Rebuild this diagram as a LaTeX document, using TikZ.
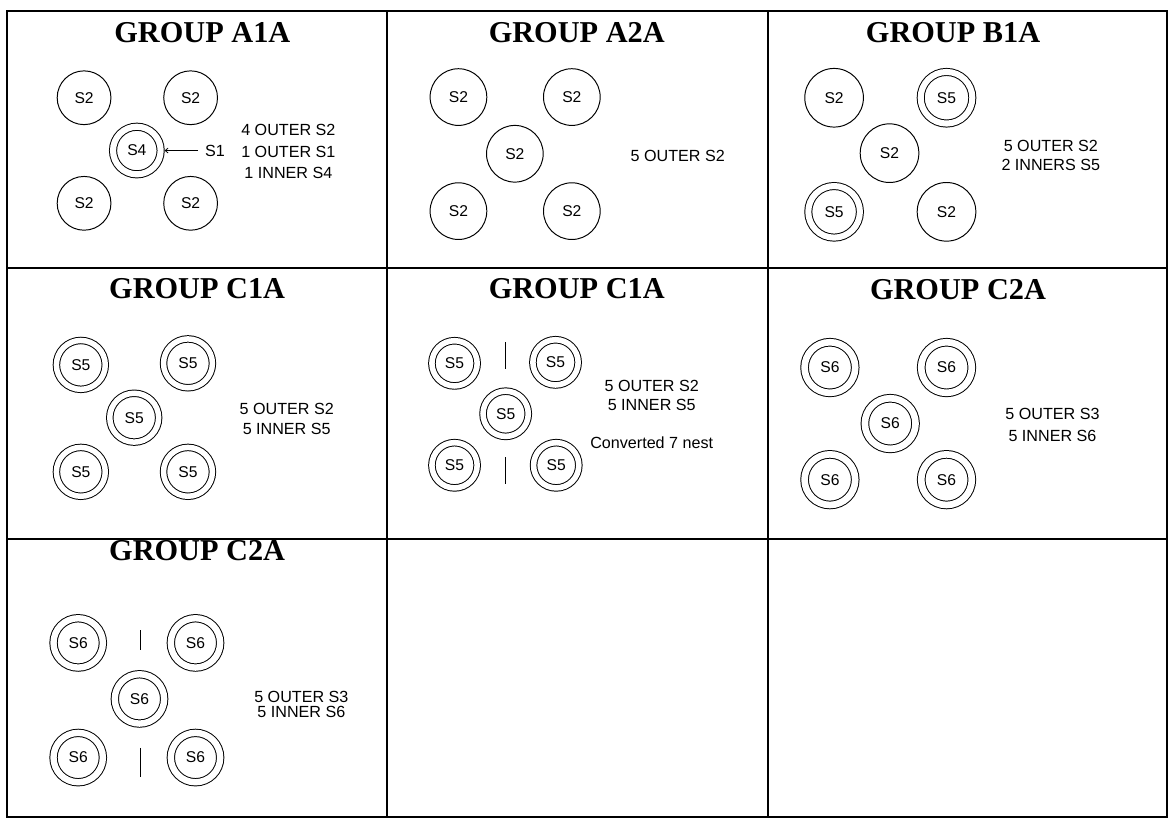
\documentclass[tikz,border=0pt]{standalone}
\usepackage{fontspec}
\setmainfont{Liberation Sans}
\newfontfamily\serifb{Liberation Serif}
\usetikzlibrary{arrows.meta}
\newcommand\ttlfont{\serifb\bfseries\fontsize{31}{34}\selectfont}
\newcommand\cfont{\fontsize{16}{18}\selectfont}
\tikzset{
  gridline/.style={line width=2pt, line cap=rect},
  ttl/.style={font=\ttlfont, inner sep=0pt},
  lbl/.style={font=\fontsize{16.5}{#1}\selectfont, align=center, inner sep=0pt},
  lbl/.default=20pt,
  sc/.style={circle, draw, line width=1pt, inner sep=0pt, minimum size=#1, font=\cfont},
  dc/.style 2 args={circle, draw, line width=1pt, double, double distance=#2, inner sep=0pt, minimum size=#1, outer sep=4pt, font=\cfont},
  tickline/.style={line width=1pt},
  arr/.style={line width=0.8pt, -{Straight Barb[length=3pt,width=5pt]}},
}
\begin{document}
\begin{tikzpicture}[x=1pt,y=-1pt]
\useasboundingbox (0,0) rectangle (1200,842);
\fill[white] (0,0) rectangle (1200,842);
% grid
\draw[gridline] (7,11) rectangle (1194,836);
\draw[gridline] (7,274) -- (1194,274);
\draw[gridline] (7,551) -- (1194,551);
\draw[gridline] (395.5,11) -- (395.5,836);
\draw[gridline] (786,11) -- (786,836);

% ---- GROUP A1A
\node[ttl] (t11) at (207,33) {GROUP A1A};
\node[sc=55pt] (a1tl) at (86,100) {S2};
\node[sc=55pt] (a1tr) at (195,100) {S2};
\node[dc={48.7pt}{6.3pt}] (a1c) at (140,154) {S4};
\node[sc=55pt] (a1bl) at (86,208) {S2};
\node[sc=55pt] (a1br) at (195,208) {S2};
\node[lbl, inner xsep=7pt] (a1s1) at (220,154) {S1};
\draw[arr] (a1s1) -- (a1c);
\node[lbl=22pt] (a1txt) at (295,155) {4 OUTER S2\\1 OUTER S1\\1 INNER S4};

% ---- GROUP A2A
\node[ttl] (t12) at (590,33.3) {GROUP A2A};
\node[sc=58pt] (a2tl) at (469,99.3) {S2};
\node[sc=58pt] (a2tr) at (585,99.3) {S2};
\node[sc=58pt] (a2c) at (526.7,157.3) {S2};
\node[sc=58pt] (a2bl) at (469,216) {S2};
\node[sc=58pt] (a2br) at (585,216) {S2};
\node[lbl] (a2txt) at (693.3,159.3) {5 OUTER S2};

% ---- GROUP B1A
\node[ttl] (t13) at (975,33.3) {GROUP B1A};
\node[sc=60pt] (b1tl) at (853.3,100) {S2};
\node[dc={52.8pt}{6.2pt}] (b1tr) at (968.3,100) {S5};
\node[sc=60pt] (b1c) at (910,156.7) {S2};
\node[dc={52.8pt}{6.2pt}] (b1bl) at (853.3,216.7) {S5};
\node[sc=60pt] (b1br) at (968.3,216.7) {S2};
\node[lbl=19.3pt] (b1txt) at (1075,158.7) {5 OUTER S2\\2 INNERS S5};

% ---- GROUP C1A (row 2, col 1)
\node[ttl] (t21) at (201.7,295) {GROUP C1A};
\node[dc={50pt}{5.6pt}] (c1tl) at (82.7,373.3) {S5};
\node[dc={50pt}{5.6pt}] (c1tr) at (192.3,371.7) {S5};
\node[dc={50pt}{5.6pt}] (c1c) at (137.3,427.3) {S5};
\node[dc={50pt}{5.6pt}] (c1bl) at (82.7,482.7) {S5};
\node[dc={50pt}{5.6pt}] (c1br) at (192.3,482.7) {S5};
\node[lbl=21pt] (c1txt) at (293.3,428.8) {5 OUTER S2\\5 INNER S5};

% ---- GROUP C1A (row 2, col 2)
\node[ttl] (t22) at (590,295) {GROUP C1A};
\node[dc={46.3pt}{5.7pt}] (d1tl) at (465,371.7) {S5};
\node[dc={46.3pt}{5.7pt}] (d1tr) at (568.3,370.7) {S5};
\node[dc={46.3pt}{5.7pt}] (d1c) at (517.3,423.3) {S5};
\node[dc={46.3pt}{5.7pt}] (d1bl) at (465,476) {S5};
\node[dc={46.3pt}{5.7pt}] (d1br) at (569,476) {S5};
\coordinate (d1k1a) at (516.7,350);
\coordinate (d1k1b) at (516.7,378);
\coordinate (d1k2a) at (516.7,468);
\coordinate (d1k2b) at (516.7,495);
\draw[tickline] (d1k1a) -- (d1k1b);
\draw[tickline] (d1k2a) -- (d1k2b);
\node[lbl=19pt] (d1txt) at (666.7,404.5) {5 OUTER S2\\5 INNER S5};
\node[lbl] (d1conv) at (666.7,452.7) {Converted 7 nest};

% ---- GROUP C2A (row 2, col 3)
\node[ttl] (t23) at (980,296.7) {GROUP C2A};
\node[dc={51.8pt}{6.8pt}] (e1tl) at (849,376) {S6};
\node[dc={51.8pt}{6.8pt}] (e1tr) at (968.3,376) {S6};
\node[dc={51.8pt}{6.8pt}] (e1c) at (910.7,433.3) {S6};
\node[dc={51.8pt}{6.8pt}] (e1bl) at (849,490.7) {S6};
\node[dc={51.8pt}{6.8pt}] (e1br) at (968.3,490.7) {S6};
\node[lbl=21.7pt] (e1txt) at (1076.7,434.8) {5 OUTER S3\\5 INNER S6};

% ---- GROUP C2A (row 3, col 1)
\node[ttl] (t31) at (201.7,563.3) {GROUP C2A};
\node[dc={50.5pt}{6.5pt}] (f1tl) at (80,657.7) {S6};
\node[dc={50.5pt}{6.5pt}] (f1tr) at (200,657.7) {S6};
\node[dc={50.5pt}{6.5pt}] (f1c) at (142.7,715) {S6};
\node[dc={50.5pt}{6.5pt}] (f1bl) at (80,775) {S6};
\node[dc={50.5pt}{6.5pt}] (f1br) at (200,775) {S6};
\coordinate (f1k1a) at (143.3,645);
\coordinate (f1k1b) at (143.3,665);
\coordinate (f1k2a) at (143.3,765);
\coordinate (f1k2b) at (143.3,795);
\draw[tickline] (f1k1a) -- (f1k1b);
\draw[tickline] (f1k2a) -- (f1k2b);
\node[lbl=15pt] (f1txt) at (308.3,720.5) {5 OUTER S3\\5 INNER S6};
\end{tikzpicture}
\end{document}
